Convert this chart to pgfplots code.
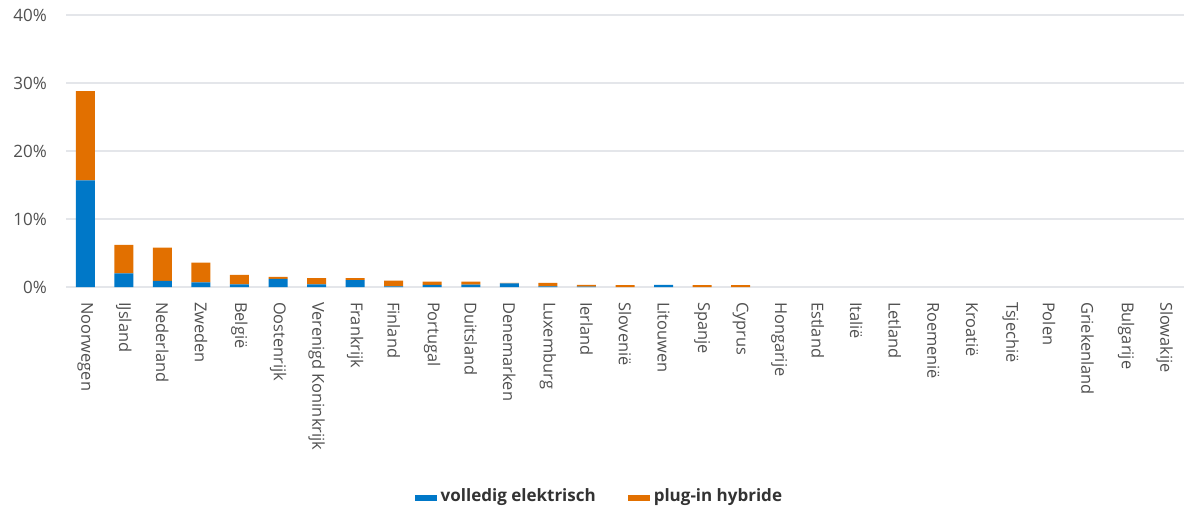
\documentclass[border=0pt]{standalone}
\usepackage{pgfplots}
\pgfplotsset{compat=1.18}
\usepackage{fontspec}
\setmainfont{Open Sans}
\definecolor{veblue}{RGB}{0,120,200}
\definecolor{phorange}{RGB}{226,112,0}
\definecolor{txtgray}{RGB}{80,80,80}
\definecolor{gridgray}{RGB}{228,230,234}

\pgfplotsset{swatch/.style={legend image code/.code={\fill[##1] (0pt,-2pt) rectangle (11pt,1pt);}}}

\begin{document}
\begin{tikzpicture}
\path[use as bounding box] (-33pt,-112pt) rectangle (563pt,143.5pt);
\begin{axis}[
    at={(0,0)}, anchor=south west,
    scale only axis,
    width=559pt, height=136pt,
    ybar stacked,
    bar width=9.5pt,
    xmin=-0.5, xmax=28.5,
    ymin=0, ymax=40,
    axis line style={draw=none},
    major tick length=0pt,
    ytick={0,10,20,30,40},
    yticklabel={\pgfmathprintnumber{\tick}\%},
    /pgf/number format/assume math mode=true,
    ymajorgrids,
    grid style={gridgray, line width=0.75pt},
    yticklabel style={font=\fontsize{8.5}{10}\selectfont, text=txtgray, anchor=east, xshift=-6pt},
    xtick={0,...,28},
    xticklabels={Noorwegen, IJsland, Nederland, Zweden, België, Oostenrijk,
        Verenigd Koninkrijk, Frankrijk, Finland, Portugal, Duitsland, Denemarken,
        Luxemburg, Ierland, Slovenië, Litouwen, Spanje, Cyprus, Hongarije, Estland,
        Italië, Letland, Roemenië, Kroatië, Tsjechië, Polen, Griekenland, Bulgarije,
        Slowakije},
    xticklabel shift=4pt,
    xticklabel style={font=\fontsize{8.2}{10}\selectfont, text=txtgray, rotate=-90, anchor=west},
    legend style={at={(0.478,-0.772)}, anchor=center, legend columns=2, draw=none,
        font=\fontsize{8.5}{10}\selectfont\bfseries, text=black!80,
        /tikz/every even column/.append style={column sep=14pt}},
]
% volledig elektrisch
\addplot[fill=veblue, draw=none, swatch] coordinates {
    (0,15.7) (1,2.0) (2,0.9) (3,0.7) (4,0.4) (5,1.2) (6,0.4) (7,1.0) (8,0.1)
    (9,0.3) (10,0.35) (11,0.55) (12,0.1) (13,0.05) (14,0) (15,0.3) (16,0) (17,0)
    (18,0) (19,0) (20,0) (21,0) (22,0) (23,0) (24,0) (25,0) (26,0) (27,0) (28,0)
};
\addlegendentry{volledig elektrisch}
% plug-in hybride
\addplot[fill=phorange, draw=none, swatch] coordinates {
    (0,13.1) (1,4.2) (2,4.9) (3,2.9) (4,1.4) (5,0.3) (6,0.9) (7,0.3) (8,0.85)
    (9,0.5) (10,0.45) (11,0.05) (12,0.5) (13,0.25) (14,0.28) (15,0) (16,0.28) (17,0.28)
    (18,0) (19,0) (20,0) (21,0) (22,0) (23,0) (24,0) (25,0) (26,0) (27,0) (28,0)
};
\addlegendentry{plug-in hybride}
\end{axis}
\end{tikzpicture}
\end{document}
